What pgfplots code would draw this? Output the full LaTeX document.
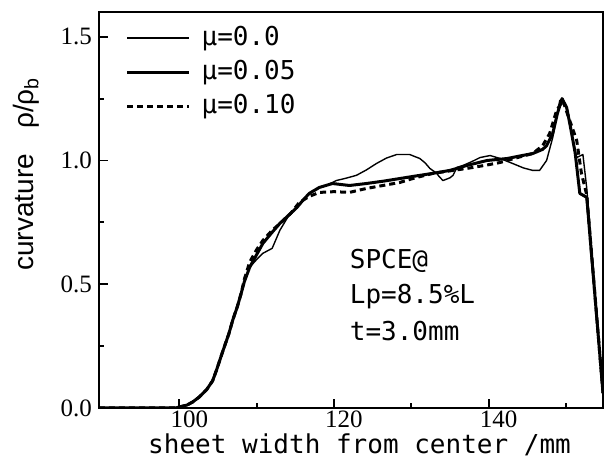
\documentclass[border=0pt]{standalone}
\usepackage{fontspec}
\usepackage{pgfplots}
\pgfplotsset{compat=1.18}
\newfontfamily\monofont{DejaVu Sans Mono}
\newfontfamily\serifnum{Liberation Serif}
\newfontfamily\sansfont{Liberation Sans}
\setmainfont{Liberation Sans}

\begin{document}
\begin{tikzpicture}
\begin{axis}[
  scale only axis,
  width=252pt, height=198pt,
  xmin=89.6, xmax=154.8,
  ymin=0, ymax=1.6,
  axis line style={line width=1.1pt},
  xtick={100,120,140}, minor xtick={110,130,150},
  ytick={0,0.5,1.0,1.5}, minor ytick={0.25,0.75,1.25},
  xtick pos=bottom, ytick pos=left,
  tick align=inside,
  major tick length=4.5pt, minor tick length=2.5pt,
  every tick/.style={black, line width=0.9pt},
  /pgf/number format/assume math mode=true,
  yticklabel style={font=\serifnum\fontsize{12.5pt}{14pt}\selectfont, /pgf/number format/.cd, fixed, fixed zerofill, precision=1},
  xticklabel style={font=\serifnum\fontsize{12.5pt}{14pt}\selectfont, anchor=north, inner sep=0pt, xshift=5pt, yshift=-1pt},
  xlabel={sheet width from center /mm},
  xlabel style={font=\monofont\fontsize{13pt}{15pt}\selectfont, at={(axis description cs:0.517,-0.114)}, anchor=base, inner sep=0pt},
  ylabel={curvature\hspace{0.9em}ρ/ρ\textsubscript{b}},
  ylabel style={font=\sansfont\fontsize{14pt}{16pt}\selectfont, at={(axis description cs:-0.129,0.591)}, anchor=base, rotate=0, inner sep=0pt},
  legend style={at={(axis description cs:0.052,0.968)}, anchor=north west, draw=none, fill=none, inner sep=0pt,
    font=\monofont\fontsize{13pt}{15pt}\selectfont, row sep=4pt,
    nodes={inner ysep=0pt, inner xsep=5.5pt, text height=10pt, text depth=3pt}},
  legend cell align=left,
  legend image code/.code={\draw[#1] (0pt,0pt) -- (31pt,0pt);},
]
% mu = 0.0 (thin)
\addplot[black, line width=0.7pt, line join=round] coordinates {
(89.6,0.0) (99.5,0.0) (100,0.004) (101,0.012) (101.7,0.024) (102.6,0.045) (103.5,0.073) (104.3,0.11) (104.8,0.153)
(105.3,0.2) (105.8,0.246) (106.4,0.3) (106.9,0.355) (107.5,0.41) (108.0,0.464) (108.4,0.51) (109.1,0.569)
(110,0.6) (110.8,0.625) (112,0.645) (113,0.718) (114,0.77) (115.2,0.81) (116.8,0.867) (118.1,0.89) (119,0.899)
(120.3,0.919) (121.5,0.928) (122.9,0.94) (124.2,0.962) (125.5,0.988) (126.8,1.01) (128.1,1.024) (129.8,1.024)
(131.1,1.008) (131.8,0.99) (132.4,0.968) (133.3,0.948) (133.6,0.935) (134.1,0.919) (135.0,0.93) (135.4,0.94)
(135.9,0.972) (136.7,0.98) (137.8,0.995) (138.9,1.012) (140.2,1.02) (141.5,1.008) (143.1,0.988) (144.5,0.97)
(145.7,0.96) (146.6,0.96) (147.5,1.0) (148.3,1.093) (149.2,1.242) (149.6,1.25) (150.3,1.19) (150.8,1.1)
(151.4,1.012) (152.2,1.024) (152.7,0.887) (154.8,0.06)
};
\addlegendentry{μ=0.0}
% mu = 0.05 (thick)
\addplot[black, line width=1.5pt, line join=round] coordinates {
(89.6,0.0) (99.5,0.0) (100,0.004) (101,0.012) (101.7,0.024) (102.6,0.045) (103.5,0.073) (104.3,0.11) (104.8,0.153)
(105.3,0.2) (105.8,0.246) (106.4,0.3) (106.9,0.355) (107.5,0.41) (108.0,0.464) (108.4,0.51) (109.1,0.569)
(110,0.62) (110.8,0.665) (112,0.71) (113.0,0.746) (114,0.775) (115.2,0.81) (116,0.84) (116.8,0.867) (118.1,0.891)
(119.8,0.907) (122,0.899) (124.2,0.907) (126.5,0.917) (128.5,0.927) (130.5,0.937) (132.8,0.948) (135,0.96)
(137.2,0.98) (139.8,1.0) (142.4,1.008) (144,1.018) (145.7,1.028) (147.0,1.045) (147.5,1.06) (148.3,1.109)
(148.9,1.19) (149.5,1.25) (150.1,1.214) (150.6,1.133) (151.2,1.03) (151.8,0.867) (152.7,0.851) (154.8,0.06)
};
\addlegendentry{μ=0.05}
% mu = 0.10 (dashed)
\addplot[black, line width=1.5pt, dash pattern=on 3pt off 2pt, line join=round] coordinates {
(89.6,0.0) (99.5,0.0) (100,0.004) (101,0.012) (101.7,0.024) (102.6,0.045) (103.5,0.073) (104.3,0.11) (104.8,0.153)
(105.3,0.2) (105.8,0.246) (106.4,0.3) (106.9,0.355) (107.5,0.41) (108.0,0.464) (108.4,0.52) (109.1,0.59)
(110,0.64) (110.8,0.677) (112,0.718) (113.2,0.75) (114.5,0.79) (115.5,0.83) (116.8,0.855) (118.1,0.871)
(120,0.874) (122,0.871) (124.2,0.887) (126.5,0.9) (128.5,0.911) (130.5,0.93) (132.8,0.948) (135,0.958)
(137.2,0.968) (139.5,0.98) (141.5,0.992) (143.5,1.01) (145.7,1.028) (147.0,1.06) (147.9,1.109) (148.8,1.202)
(149.6,1.242) (150.5,1.161) (151.4,1.081) (152,0.95) (152.7,0.86) (154.8,0.06)
};
\addlegendentry{μ=0.10}
\node[font=\monofont\fontsize{13pt}{15pt}\selectfont, anchor=base west, inner sep=0pt] at (axis cs:122.0,0.563) {SPCE@};
\node[font=\monofont\fontsize{13pt}{15pt}\selectfont, anchor=base west, inner sep=0pt] at (axis cs:122.0,0.422) {Lp=8.5\%L};
\node[font=\monofont\fontsize{13pt}{15pt}\selectfont, anchor=base west, inner sep=0pt] at (axis cs:122.0,0.274) {t=3.0mm};
\end{axis}
\pgfresetboundingbox
\path ([shift={(-49.5pt,-30pt)}]current axis.south west) rectangle ([shift={(6.5pt,6pt)}]current axis.north east);
\end{tikzpicture}
\end{document}
